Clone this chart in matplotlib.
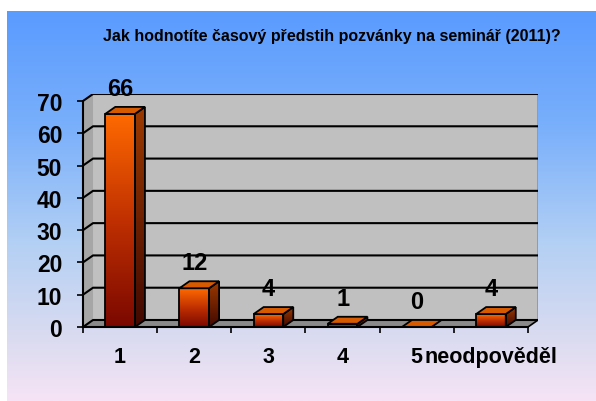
import numpy as np
import matplotlib.pyplot as plt
from matplotlib.patches import Polygon
from matplotlib.colors import LinearSegmentedColormap

plt.rcParams['font.family'] = ['Liberation Sans', 'DejaVu Sans']
plt.rcParams['font.weight'] = 'bold'

title = "Jak hodnotíte časový předstih pozvánky na seminář (2011)?"
categories = ['1', '2', '3', '4', '5', 'neodpověděl']
values = [66, 12, 4, 1, 0, 4]
yticks = [0, 10, 20, 30, 40, 50, 60, 70]

fig = plt.figure(figsize=(5.96, 4.02), dpi=100)

# background gradient panel
bg = fig.add_axes([7 / 596, 0, 589 / 596, 390 / 402], zorder=-10)
bg_cmap = LinearSegmentedColormap.from_list(
    'bg', [(0, '#5a9bff'), (0.3, '#7ab0fb'), (0.6, '#b4d0f4'),
           (0.85, '#dcdcf0'), (1, '#f6e4f6')])
bg.imshow(np.linspace(0, 1, 256).reshape(-1, 1), aspect='auto', cmap=bg_cmap,
          extent=[0, 1, 0, 1])
bg.axis('off')

ax = fig.add_axes([83 / 596, 74 / 402, 455 / 596, 233 / 402])
n = len(categories)
dx = 0.135
dy = 2.17
xmin, xmax = -0.5, n - 0.5
ax.set_xlim(xmin, xmax + dx)
ax.set_ylim(0, 70 + dy)
ax.patch.set_alpha(0)

# walls
ax.add_patch(Polygon([(xmin + dx, dy), (xmax + dx, dy), (xmax + dx, 70 + dy),
                      (xmin + dx, 70 + dy)], closed=True, fc='#c0c0c0', ec='none', zorder=1))
ax.add_patch(Polygon([(xmin, 0), (xmin, 70), (xmin + dx, 70 + dy), (xmin + dx, dy)],
                     closed=True, fc='#a6a6a6', ec='none', zorder=1))
ax.add_patch(Polygon([(xmin, 0), (xmax, 0), (xmax + dx, dy), (xmin + dx, dy)],
                     closed=True, fc='#8a8a8a', ec='none', zorder=1))

# grid lines
for y in yticks:
    ax.plot([xmin, xmin + dx, xmax + dx], [y, y + dy, y + dy], color='black', lw=1.5, zorder=2,
            solid_capstyle='butt')
ax.plot([xmax + dx, xmax + dx], [dy, 70 + dy], color='black', lw=1, zorder=2)
ax.plot([xmax, xmax + dx], [0, dy], color='black', lw=1.2, zorder=2)

front_cmap = LinearSegmentedColormap.from_list('front', ['#7a0800', '#c03000', '#ff6a00'])
side_cmap = LinearSegmentedColormap.from_list('side', ['#420800', '#9c3a00'])
grad = np.linspace(0, 1, 128).reshape(-1, 1)
w = 0.2

for i, v in enumerate(values):
    x0, x1 = i - w, i + w
    if v > 0:
        front = Polygon([(x0, 0), (x1, 0), (x1, v), (x0, v)], closed=True,
                        fc='none', ec='black', lw=1.3, zorder=6)
        ax.add_patch(front)
        im = ax.imshow(grad, origin='lower', cmap=front_cmap, aspect='auto',
                       extent=[x0, x1, 0, v], zorder=5)
        im.set_clip_path(front)
        side = Polygon([(x1, 0), (x1 + dx, dy), (x1 + dx, v + dy), (x1, v)], closed=True,
                       fc='none', ec='black', lw=1.3, zorder=6)
        ax.add_patch(side)
        im2 = ax.imshow(grad, origin='lower', cmap=side_cmap, aspect='auto',
                        extent=[x1, x1 + dx, 0, v + dy], zorder=5)
        im2.set_clip_path(side)
    ax.add_patch(Polygon([(x0, v), (x1, v), (x1 + dx, v + dy), (x0 + dx, v + dy)], closed=True,
                         fc='#d65a00', ec='black', lw=1.3, zorder=6))
    ax.annotate(str(v), (i, v + dy), xytext=(0, 5), textcoords='offset points',
                ha='center', va='bottom', fontsize=17, fontweight='bold', zorder=7)

ax.set_xlim(xmin, xmax + dx)
ax.set_ylim(0, 70 + dy)

for s in ['top', 'right']:
    ax.spines[s].set_visible(False)
ax.spines['left'].set_bounds(0, 70)
ax.spines['bottom'].set_bounds(xmin, xmax)
for s in ['left', 'bottom']:
    ax.spines[s].set_linewidth(1.5)
    ax.spines[s].set_zorder(8)

ax.set_yticks(yticks)
ax.set_yticklabels([str(t) for t in yticks], fontsize=16.5, fontweight='bold')
ax.tick_params(axis='y', length=4, width=1.2, pad=11)
ax.set_xticks(range(n))
ax.set_xticklabels(categories, fontsize=15.5, fontweight='bold')
ax.set_xticks(np.arange(xmin, xmax + 0.01, 1), minor=True)
ax.tick_params(axis='x', which='major', length=0, pad=14)
ax.tick_params(axis='x', which='minor', length=4, width=1.2)

fig.text(0.557, 0.908, title, ha='center', va='center', fontsize=11.5, fontweight='bold')

fig.savefig('out.png', dpi=100)
